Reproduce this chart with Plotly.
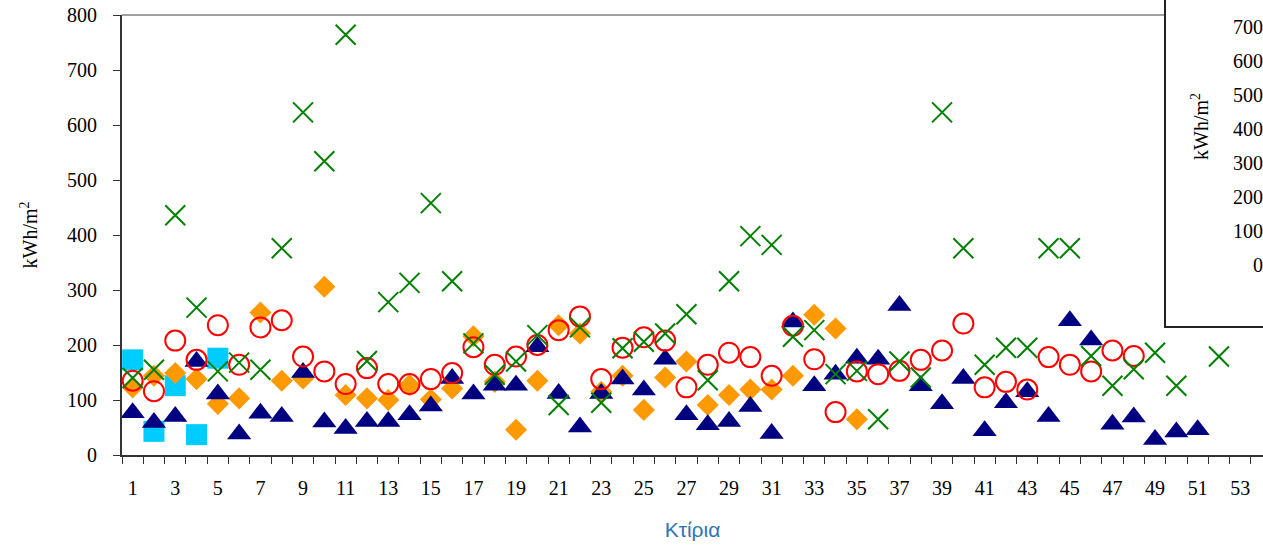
import plotly.graph_objects as go

# ---- data ----
buildings = list(range(1, 54))

squares = [173, 43, 126, 37, 176]

triangles = [77, 59, 70, 170, 111, 38, 76, 70, 150, 60,
             48, 61, 61, 73, 89, 139, 111, 127, 127, 197,
             112, 51, 112, 138, 118, 174, 73, 55, 61, 88,
             39, 242, 126, 147, 176, 174, 272, 126, 93, 139,
             44, 95, 115, 70, 244, 209, 56, 69, 28, 42, 46]

diamonds = [123, 144, 149, 138, 93, 103, 259, 135, 139, 306,
            109, 103, 100, 127, 101, 121, 216, 133, 46, 135,
            236, 221, 115, 144, 82, 141, 170, 91, 109, 119,
            119, 144, 255, 230, 65]

circles = [135, 116, 208, 173, 236, 164, 232, 245, 179, 152,
           129, 158, 129, 129, 138, 149, 196, 164, 179, 200,
           227, 252, 138, 195, 214, 208, 123, 164, 186, 178,
           144, 235, 174, 78, 152, 147, 153, 173, 190, 239,
           123, 133, 119, 178, 164, 152, 190, 180]

crosses = [140, 155, 436, 268, 152, 168, 155, 376, 623, 534,
           764, 171, 278, 313, 458, 316, 203, 146, 170, 218,
           91, 232, 95, 194, 206, 221, 256, 136, 316, 398,
           382, 215, 227, 147, 153, 65, 170, 141, 623, 376,
           164, 195, 195, 376, 376, 180, 126, 156, 186, 126,
           None, 179]

y_ticks = [0, 100, 200, 300, 400, 500, 600, 700, 800]
inset_ticks = [0, 100, 200, 300, 400, 500, 600, 700]
x_tick_labels = list(range(1, 54, 2))

# ---- figure ----
serif = "Liberation Serif"
fig = go.Figure()

fig.add_trace(go.Scatter(x=buildings[:len(squares)], y=squares, mode="markers",
                         marker=dict(symbol="square", size=21, color="#00CCFF")))
fig.add_trace(go.Scatter(x=buildings[:len(diamonds)], y=diamonds, mode="markers",
                         marker=dict(symbol="diamond", size=17, color="#FF9900")))
fig.add_trace(go.Scatter(x=buildings[:len(triangles)], y=triangles, mode="markers",
                         marker=dict(symbol="triangle-up", size=21, color="#000080")))
fig.add_trace(go.Scatter(x=buildings[:len(circles)], y=circles, mode="markers",
                         marker=dict(symbol="circle-open", size=20, color="#FF0000",
                                     line=dict(width=2))))
fig.add_trace(go.Scatter(x=buildings[:len(crosses)], y=crosses, mode="markers",
                         marker=dict(symbol="x-thin", size=20, color="#008000",
                                     line=dict(width=2, color="#008000"))))
# empty trace that only carries the inset (cut-off second chart) axis
fig.add_trace(go.Scatter(x=[], y=[], mode="markers", xaxis="x", yaxis="y2",
                         hoverinfo="skip", showlegend=False))

W, H = 1263, 549
L, R, T, B = 122, 0, 15, 94
pw = W - L - R
ph = H - T - B
cat_px = 21.3
x_right = 0.5 + pw / cat_px

# inset box geometry (pixels)
box_left_px = 1165
box_bottom_px = 327
box_x0 = (box_left_px - L) / pw
box_y0 = (H - B - box_bottom_px) / ph

# inset axis scale: 0 at y=265px, 700 at y=27px
inset_scale = (265 - 27) / 700.0
inset_lo = -((H - B) - 265) / inset_scale
inset_hi = (265 - T) / inset_scale

fig.update_layout(
    width=W, height=H,
    margin=dict(l=L, r=R, t=T, b=B, autoexpand=False),
    plot_bgcolor="white", paper_bgcolor="white",
    showlegend=False,
    xaxis=dict(
        range=[0.5, x_right],
        tickmode="array", tickvals=x_tick_labels,
        ticktext=[str(v) for v in x_tick_labels],
        ticks="outside", ticklen=0,
        ticklabelstandoff=14,
        minor=dict(tick0=0.5, dtick=1, ticks="outside", ticklen=7,
                   tickcolor="#333333", tickwidth=1),
        showline=True, linecolor="#333333", linewidth=2,
        showgrid=False, zeroline=False,
        tickfont=dict(family=serif, size=20, color="black"),
        title=dict(text="Κτίρια", standoff=24,
                   font=dict(family="Liberation Sans", size=21, color="#2E75B6")),
    ),
    yaxis=dict(
        range=[0, 800], tickmode="array", tickvals=y_ticks,
        ticks="outside", ticklen=7, tickcolor="#333333",
        ticklabelstandoff=12,
        showline=True, linecolor="#333333", linewidth=2,
        showgrid=False, zeroline=False,
        tickfont=dict(family=serif, size=20, color="black"),
        title=dict(text="kWh/m<sup>2</sup>", standoff=24,
                   font=dict(family=serif, size=20, color="black")),
    ),
    yaxis2=dict(
        overlaying="y", anchor="free", position=1.0, side="left",
        range=[inset_lo, inset_hi], tickmode="array", tickvals=inset_ticks,
        ticks="", showline=False, showgrid=False, zeroline=False,
        tickfont=dict(family=serif, size=20, color="black"),
    ),
    shapes=[
        dict(type="line", xref="paper", yref="paper", x0=0, x1=box_x0, y0=1, y1=1,
             line=dict(color="#A0A0A0", width=2)),
        dict(type="rect", xref="paper", yref="paper", x0=box_x0, x1=1.05,
             y0=box_y0, y1=1.2, line=dict(color="#222222", width=2),
             fillcolor="rgba(0,0,0,0)"),
    ],
    annotations=[
        dict(text="kWh/m<sup>2</sup>", xref="paper", yref="paper",
             x=(1200 - L) / pw, y=(H - B - 127) / ph, textangle=-90,
             xanchor="center", yanchor="middle",
             showarrow=False, font=dict(family=serif, size=20, color="black")),
    ],
)

fig.write_html(
    "out.html",
    config={"displayModeBar": False},
    post_script="document.body.style.margin='0';document.body.style.overflow='hidden';",
)
